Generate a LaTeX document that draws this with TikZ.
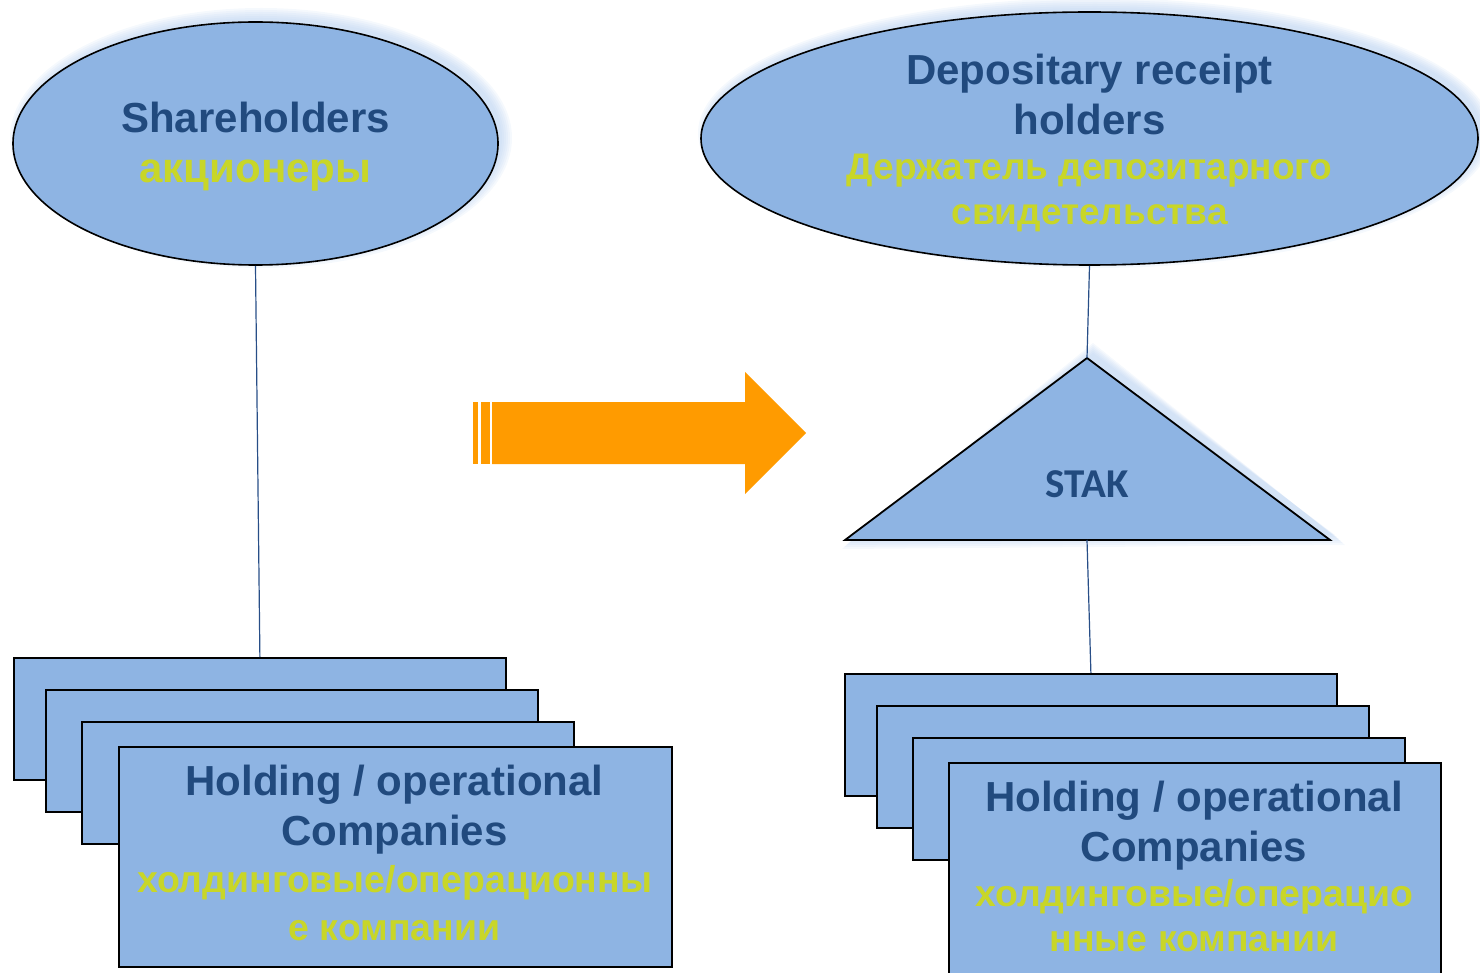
\documentclass[tikz,border=0pt]{standalone}
\usepackage{fontspec}
\setmainfont{Liberation Sans}
\newfontfamily\stakfont{Carlito}
\usetikzlibrary{shapes.geometric}
\definecolor{paleblue}{RGB}{142,180,227}
\definecolor{inkblue}{RGB}{33,74,126}
\definecolor{ruyellow}{RGB}{200,214,40}
\definecolor{wireblue}{RGB}{40,78,135}
\definecolor{glow}{RGB}{175,202,238}
\definecolor{shiftorange}{RGB}{255,155,0}
\tikzset{
  oval/.style={ellipse, draw=black, line width=1.6pt, fill=paleblue, inner sep=0pt},
  card/.style={rectangle, draw=black, line width=1.8pt, fill=paleblue,
    anchor=north west, inner sep=0pt},
  entext/.style={text=inkblue, align=center, font=\bfseries\fontsize{42}{50}\selectfont},
  rutext/.style={text=ruyellow, align=center, font=\bfseries\fontsize{37.4}{48}\selectfont},
  wire/.style={wireblue, line width=1.2pt}
}
\begin{document}
\begin{tikzpicture}[x=1pt,y=-1pt]
  \useasboundingbox (0,0) rectangle (1480,973);
  % glow behind the ovals and the triangle
  \foreach \r in {1,3,...,11} {
    \fill[glow, opacity=.12] (261,138) ellipse [x radius=240+\r, y radius=119+\r];
    \fill[glow, opacity=.12] (1095,133) ellipse [x radius=386+\r, y radius=124+\r];
    \fill[glow, opacity=.12] (853-\r,538+\r) -- (1093,354-\r) -- (1334+\r,534+\r) -- cycle;
  }
  \node[oval, minimum width=485pt, minimum height=243pt] (share) at (255.5,143.5) {};
  \node[entext] (sharetxt) at (255.5,147)
    {Shareholders\\\color{ruyellow}акционеры};
  \node[oval, minimum width=777pt, minimum height=253pt] (drh) at (1089.5,138.5) {};
  \node[entext] (drhtxt) at (1089.5,94) {Depositary receipt\\holders};
  \node[rutext, font=\bfseries\fontsize{37}{45}\selectfont] (drhru) at (1089.5,192.5)
    {Держатель депозитарного\\свидетельства};
  % the shift
  \fill[shiftorange] (492,402) -- (745,402) -- (745,372) -- (806,433)
    -- (745,494) -- (745,464) -- (492,464) -- cycle;
  \fill[shiftorange] (473,402) rectangle (478,464);
  \fill[shiftorange] (481,402) rectangle (490,464);
  % STAK
  \coordinate (staktop) at (1087,358);
  \coordinate (stakbase) at (1087,540);
  \filldraw[fill=paleblue, draw=black, line width=1.8pt] (845,540) -- (staktop)
    -- (1330,540) -- cycle;
  \node[text=inkblue, anchor=base, font=\stakfont\bfseries\fontsize{41}{48}\selectfont]
    (stak) at (1087,497) {STAK};
  % companies, left
  \node[card, minimum width=492pt, minimum height=122pt] (lbox1) at (13,657) {};
  \node[card, minimum width=492pt, minimum height=122pt] (lbox2) at (45,689) {};
  \node[card, minimum width=492pt, minimum height=122pt] (lbox3) at (81,721) {};
  \node[card, minimum width=553pt, minimum height=220pt] (lbox4) at (118,746) {};
  \node[entext] (lboxtxt) at (394.5,810) {Holding / operational\\Companies};
  \node[rutext] (lboxru) at (394.5,903) {холдинговые/операционны\\е компании};
  % companies, right
  \node[card, minimum width=492pt, minimum height=122pt] (rbox1) at (844,673) {};
  \node[card, minimum width=492pt, minimum height=122pt] (rbox2) at (876,705) {};
  \node[card, minimum width=492pt, minimum height=122pt] (rbox3) at (912,737) {};
  \node[card, minimum width=492pt, minimum height=235pt] (rbox4) at (948,762) {};
  \node[entext] (rboxtxt) at (1194,826) {Holding / operational\\Companies};
  \node[rutext, font=\bfseries\fontsize{37.4}{45}\selectfont] (rboxru) at (1194,916)
    {холдинговые/операцио\\нные компании};
  \draw[wire] (share.south) -- (lbox1.north);
  \draw[wire] (drh.south) -- (staktop);
  \draw[wire] (stakbase) -- (rbox1.north);
\end{tikzpicture}
\end{document}
